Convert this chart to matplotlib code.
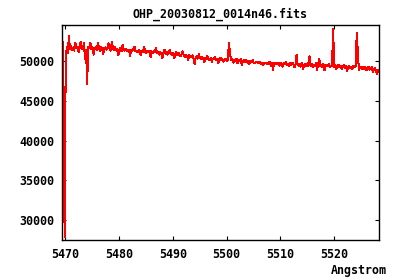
import numpy as np
import matplotlib
matplotlib.use("Agg")
import matplotlib.pyplot as plt

title = "OHP_20030812_0014n46.fits"
xlabel = "Angstrom"
crval1 = 5469.45   # first wavelength (Angstrom)
cdelt1 = 0.2       # wavelength step (Angstrom)

flux = [
    52700, 46600, 27900, 49500, 51800, 51000, 53100, 51500, 51900, 51400,
    51700, 51300, 52300, 51600, 51800, 51100, 51700, 52400, 51500, 51600,
    52200, 50200, 51400, 47100, 51800, 51600, 52300, 51500, 51700, 50800,
    51500, 51700, 51400, 52300, 51600, 51300, 51800, 51500, 50900, 51600,
    51700, 51400, 51600, 52200, 51500, 51300, 52400, 51600, 51400, 51700,
    51300, 51500, 50700, 51400, 51600, 51200, 52000, 51400, 51300, 51500,
    51200, 51400, 51300, 50600, 51400, 51200, 51500, 51800, 51200, 51300,
    51100, 51400, 51200, 50700, 51300, 51100, 51700, 51200, 51000, 51300,
    51100, 51300, 50500, 51200, 51000, 51300, 51100, 51600, 51000, 51100,
    50800, 51100, 50900, 50400, 51000, 51400, 50900, 51100, 50800, 51000,
    51400, 50900, 50800, 51000, 50300, 50900, 51100, 50700, 51000, 50800,
    50600, 50900, 51200, 50700, 50500, 50800, 50600, 50100, 50700, 50600,
    50500, 50700, 50300, 49600, 50400, 50600, 50300, 50900, 50400, 50200,
    50500, 50300, 49800, 50400, 50200, 50600, 50300, 50100, 50400, 49900,
    50300, 50200, 50500, 50100, 50300, 49700, 50200, 50400, 50100, 50200,
    49900, 50100, 50300, 50000, 50200, 52300, 51000, 50100, 50200, 49800,
    50100, 50000, 50300, 49700, 50100, 50000, 50200, 49500, 50000, 50100,
    49900, 50100, 49800, 50000, 49600, 50000, 49900, 50100, 49800, 49700,
    49800, 49900, 49700, 49800, 49900, 49600, 49800, 49500, 49800, 49700,
    49800, 49600, 49700, 49900, 49400, 49700, 48900, 49700, 49600, 49800,
    49600, 49700, 49400, 49800, 49600, 49300, 49700, 49600, 49900, 49500,
    49600, 49400, 49700, 49500, 49800, 49600, 49200, 49600, 50750, 49500,
    49400, 49600, 49300, 49700, 49000, 49500, 49600, 49400, 49700, 49300,
    50600, 49400, 49600, 49200, 49500, 49400, 49700, 48900, 49500, 50300,
    49400, 49500, 49200, 49600, 48800, 49400, 49500, 49300, 49600, 49200,
    49400, 49300, 54000, 49200, 49500, 49000, 49400, 49500, 49200, 49400,
    49000, 49300, 49500, 49100, 49400, 48700, 49200, 49400, 49100, 49300,
    49000, 49400, 49200, 49300, 53500, 51200, 48800, 49200, 49300, 49000,
    49200, 49000, 49300, 48800, 49100, 49300, 48900, 49100, 49200, 48600,
    48900, 49100, 48700, 48400, 48900, 48600,
]
wavelength = crval1 + cdelt1 * np.arange(len(flux))

xticks = [5470, 5480, 5490, 5500, 5510, 5520]
yticks = [30000, 35000, 40000, 45000, 50000]

font = {"family": "DejaVu Sans Mono", "weight": "bold", "size": 8.4}

fig = plt.figure(figsize=(4.0, 2.8), dpi=100)
ax = fig.add_axes([0.156, 0.143, 0.792, 0.767])
ax.plot(wavelength, flux, color="#ff0000", lw=0.72, antialiased=False)
ax.set_xlim(5469.44, 5528.43)
ax.set_ylim(27525, 54485)
ax.set_xticks(xticks)
ax.set_yticks(yticks)
ax.set_xticklabels([str(t) for t in xticks], fontdict=font)
ax.set_yticklabels([str(t) for t in yticks], fontdict=font)
ax.tick_params(direction="in", length=3, width=0.8, top=True, right=True,
               pad=6, colors="black")
for s in ax.spines.values():
    s.set_linewidth(1.0)
fig.text(0.549, 0.95, title, ha="center", va="center", **font)
fig.text(0.968, 0.033, xlabel, ha="right", va="center", **font)
fig.savefig("out.png", dpi=100)
